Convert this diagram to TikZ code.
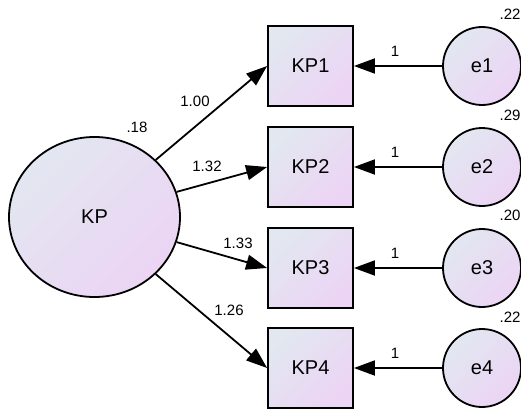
\documentclass[tikz,border=0pt]{standalone}
\usepackage{fontspec}
\setmainfont{Liberation Sans}
\usetikzlibrary{arrows.meta,shapes.geometric}

\definecolor{semA}{RGB}{226,231,240}
\definecolor{semB}{RGB}{236,212,245}

\tikzset{every picture/.style={line width=1.8pt}}
\tikzset{
  latent/.style={ellipse, draw, left color=semA, right color=semB, shading angle=45,
    minimum width=171pt, minimum height=160pt, inner sep=0pt, font=\fontsize{20}{23}\selectfont},
  errvar/.style={circle, draw, left color=semA, right color=semB, shading angle=45,
    minimum size=78pt, inner sep=0pt, font=\fontsize{20}{23}\selectfont},
  observed/.style={rectangle, draw, left color=semA, right color=semB, shading angle=45,
    minimum width=85pt, minimum height=80pt, inner sep=0pt, font=\fontsize{20}{23}\selectfont},
  est/.style={inner sep=0.75pt, font=\fontsize{15}{17}\selectfont},
  path/.style={-{Triangle[length=21pt,width=15pt]}}
}

\begin{document}
\begin{tikzpicture}[x=1pt,y=1pt,yscale=-1,xscale=1]
\useasboundingbox (0,0) rectangle (521,409);

%Shape: Ellipse
\node [latent] (KP) at (94.5,217) {KP};
%Shape: Rectangle
\node [observed] (KP1) at (310.5,66) {KP1};
\node [observed] (KP2) at (310.5,167) {KP2};
\node [observed] (KP3) at (310.5,268) {KP3};
\node [observed] (KP4) at (310.5,368) {KP4};
%Shape: Circle
\node [errvar] (e1) at (482,66) {e1};
\node [errvar] (e2) at (482,167) {e2};
\node [errvar] (e3) at (482,268) {e3};
\node [errvar] (e4) at (482,368) {e4};

%Straight Lines
\draw [path] (KP.43) -- (KP1.west);
\draw [path] (KP.17) -- (KP2.west);
\draw [path] (KP.-17) -- (KP3.west);
\draw [path] (KP.-43) -- (KP4.west);
%Straight Lines
\draw [path] (e1.west) -- (KP1.east);
\draw [path] (e2.west) -- (KP2.east);
\draw [path] (e3.west) -- (KP3.east);
\draw [path] (e4.west) -- (KP4.east);

% Text Node
\node [est] (vKP) at (137,127) {.18};
\node [est] (ve1) at (510,14) {.22};
\node [est] (ve2) at (510,115) {.29};
\node [est] (ve3) at (510,215) {.20};
\node [est] (ve4) at (510,317) {.22};
% Text Node
\node [est] (w1) at (195,101) {1.00};
\node [est] (w2) at (207,166) {1.32};
\node [est] (w3) at (238,243) {1.33};
\node [est] (w4) at (229,310) {1.26};
% Text Node
\node [est] (f1) at (395,51) {1};
\node [est] (f2) at (395,152) {1};
\node [est] (f3) at (395,253) {1};
\node [est] (f4) at (395,353) {1};

\end{tikzpicture}
\end{document}
